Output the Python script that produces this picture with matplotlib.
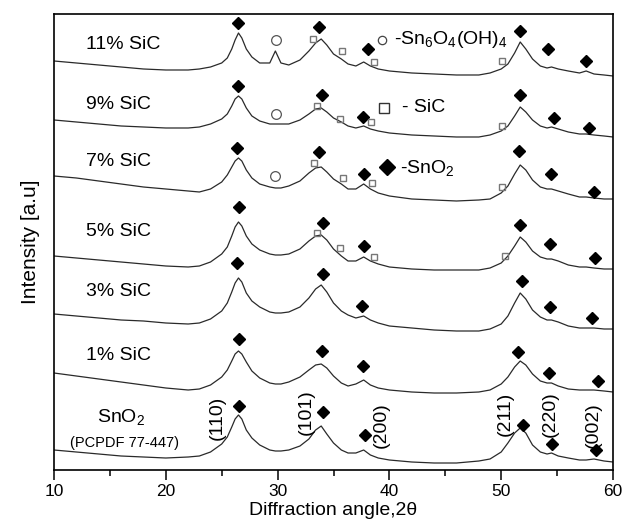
import numpy as np
import matplotlib
matplotlib.use('Agg')
import matplotlib.pyplot as plt
from matplotlib.ticker import MultipleLocator

plt.rcParams['font.family'] = ['Liberation Sans', 'DejaVu Sans']
plt.rcParams['mathtext.fontset'] = 'custom'
plt.rcParams['mathtext.rm'] = 'Liberation Sans'
plt.rcParams['mathtext.it'] = 'Liberation Sans'

# 2theta grid (deg) and stacked intensities (a.u.)
two_theta = [10, 12, 14, 16, 18, 20, 22, 23, 24, 25,
             25.5, 25.9, 26.2, 26.5, 26.8, 27.2, 27.7, 28.4, 29.3, 29.8,
             30.3, 31, 32, 32.8, 33.4, 33.9, 34.4, 35, 35.7, 36.3,
             37, 37.7, 38.3, 39, 40, 42, 44, 46, 48, 49,
             50, 50.6, 51.2, 51.7, 52.2, 52.8, 53.5, 54.1, 54.5, 55.1,
             56, 57, 57.6, 58.3, 59.2, 60]

sic_11 = [409, 407, 405, 403, 401, 400, 400, 401, 403, 407,
          412, 421, 430, 437, 432, 421, 413, 407, 407, 419,
          407, 405, 410, 419, 427, 431, 425, 416, 411, 406,
          404, 408, 404, 401, 399, 397, 396, 395, 395, 397,
          401, 406, 417, 428, 421, 411, 404, 402, 403, 401,
          399, 397, 399, 396, 395, 394]
sic_9 = [350, 348, 346, 344, 343, 342, 342, 343, 346, 351,
         356, 364, 371, 374, 371, 362, 354, 349, 346, 346,
         346, 346, 350, 356, 361, 362, 358, 352, 348, 344,
         342, 344, 341, 339, 337, 335, 334, 333, 333, 335,
         339, 344, 354, 363, 358, 350, 344, 342, 343, 341,
         338, 336, 336, 335, 334, 333]
sic_7 = [294, 292, 289, 286, 283, 281, 279, 278, 281, 288,
         295, 303, 309, 312, 309, 300, 292, 286, 283, 282,
         282, 284, 289, 297, 302, 303, 298, 291, 286, 281,
         281, 286, 281, 277, 274, 271, 270, 269, 270, 271,
         277, 284, 296, 305, 300, 290, 283, 281, 281, 279,
         276, 273, 273, 272, 271, 271]
sic_5 = [214, 212, 210, 208, 206, 204, 203, 204, 208, 216,
         223, 234, 243, 248, 244, 234, 226, 220, 216, 215,
         215, 216, 221, 229, 234, 235, 230, 221, 214, 209,
         209, 213, 209, 206, 203, 201, 200, 200, 200, 202,
         207, 214, 224, 233, 228, 219, 213, 211, 211, 209,
         205, 203, 203, 202, 201, 201]
sic_3 = [156, 154, 152, 150, 149, 147, 146, 147, 151, 159,
         167, 178, 187, 192, 188, 177, 169, 163, 158, 157,
         157, 158, 163, 172, 181, 185, 178, 167, 159, 155,
         152, 154, 150, 147, 144, 142, 140, 139, 139, 141,
         146, 154, 167, 177, 171, 160, 153, 150, 150, 148,
         144, 142, 142, 142, 141, 141]
sic_1 = [97, 94, 91, 88, 85, 82, 80, 81, 85, 93,
         100, 109, 116, 119, 116, 108, 99, 92, 87, 86,
         86, 88, 93, 100, 105, 106, 102, 94, 87, 84,
         86, 90, 85, 82, 80, 78, 77, 77, 78, 80,
         86, 93, 103, 109, 105, 96, 89, 87, 87, 84,
         81, 80, 80, 80, 79, 78]
sno2 = [20, 18, 16, 14, 13, 12, 13, 14, 18, 26,
        33, 43, 51, 55, 51, 40, 32, 25, 20, 19,
        19, 20, 24, 31, 40, 44, 36, 27, 20, 17,
        17, 20, 15, 12, 10, 8, 7, 7, 9, 11,
        18, 27, 37, 42, 37, 25, 18, 16, 17, 14,
        12, 10, 10, 11, 9, 8]

curves = [sic_11, sic_9, sic_7, sic_5, sic_3, sic_1, sno2]
sample_labels = ['11% SiC', '9% SiC', '7% SiC', '5% SiC', '3% SiC', '1% SiC']
label_y = [425, 365, 308, 238, 178, 115]

# phase markers (2theta, intensity)
sno2_tt = [26.46, 33.70, 38.09, 51.68, 54.19, 57.59,
           26.46, 33.97, 37.64, 51.68, 54.72, 57.85,
           26.37, 33.70, 37.73, 51.59, 54.45, 58.30,
           26.55, 34.06, 37.73, 51.68, 54.36, 58.39,
           26.37, 34.06, 37.55, 51.86, 54.36, 58.12,
           26.55, 33.97, 37.64, 51.50, 54.27, 58.66,
           26.55, 34.06, 37.82, 51.95, 54.54, 58.48]
sno2_int = [447, 443, 421, 439, 421, 409,
            384, 375, 353, 375, 352, 342,
            322, 318, 296, 319, 296, 278,
            263, 247, 224, 245, 226, 212,
            207, 196, 164, 189, 163, 152,
            131, 119, 104, 118, 97, 89,
            64, 58, 35, 45, 26, 20]
sic_tt = [33.17, 35.76, 38.62, 50.07,
          33.53, 35.58, 38.35, 50.07,
          33.26, 35.85, 38.44, 50.07,
          33.53, 35.58, 38.62, 50.34]
sic_int = [431, 419, 408, 409,
           364, 351, 348, 344,
           307, 292, 287, 283,
           237, 222, 213, 214]
hyd_tt = [29.86, 29.86, 29.77]
hyd_int = [430, 356, 294]

miller = ['(110)', '(101)', '(200)', '(211)', '(220)', '(002)']
miller_tt = [24.58, 32.54, 39.25, 50.34, 54.36, 58.21]
miller_y = [52, 58, 45, 56, 56, 45]

fig = plt.figure(figsize=(6.25, 5.3), dpi=100)
ax = fig.add_axes([0.0864, 0.1132, 0.8944, 0.8604])

for c in curves:
    ax.plot(two_theta, c, '-', color='#2a2a2a', lw=0.9)

ax.plot(sno2_tt, sno2_int, 'D', color='black', markersize=6, ls='none')
ax.plot(sic_tt, sic_int, 's', mfc='none', mec='#777777', mew=1.0, markersize=5, ls='none')
ax.plot(hyd_tt, hyd_int, 'o', mfc='none', mec='#555555', mew=0.9, markersize=7, ls='none')

# legend drawn by hand like in the figure
ax.plot([39.34], [430], 'o', mfc='none', mec='#444444', mew=0.9, markersize=6)
ax.text(40.45, 430, '-Sn$_6$O$_4$(OH)$_4$', fontsize=14, va='center', ha='left')
ax.plot([39.52], [362], 's', mfc='none', mec='#333333', mew=1.0, markersize=7.5)
ax.text(41.1, 362, '- SiC', fontsize=14, va='center', ha='left')
ax.plot([39.79], [303], 'D', color='black', markersize=8.5)
ax.text(40.95, 302, '-SnO$_2$', fontsize=14, va='center', ha='left')

for lab, y in zip(sample_labels, label_y):
    ax.text(12.86, y, lab, fontsize=14, va='center', ha='left')
ax.text(16.0, 53, 'SnO$_2$', fontsize=14, va='center', ha='center')
ax.text(16.35, 27, '(PCPDF 77-447)', fontsize=10.5, va='center', ha='center')

for lab, x, y in zip(miller, miller_tt, miller_y):
    ax.text(x, y, lab, fontsize=14, rotation=90, va='center', ha='center')

ax.set_xlim(10, 60)
ax.set_ylim(0, 456)
ax.xaxis.set_major_locator(MultipleLocator(10))
ax.xaxis.set_minor_locator(MultipleLocator(5))
ax.tick_params(axis='x', which='major', direction='out', length=7, width=1.1, labelsize=12.5, pad=3)
ax.tick_params(axis='x', which='minor', direction='out', length=4, width=1.1)
ax.set_yticks([])
for s in ax.spines.values():
    s.set_linewidth(1.2)

ax.set_xlabel('Diffraction angle,2θ', fontsize=14, labelpad=2)
ax.set_ylabel('Intensity [a.u]', fontsize=15, labelpad=10)

plt.savefig('out.png', dpi=100)
